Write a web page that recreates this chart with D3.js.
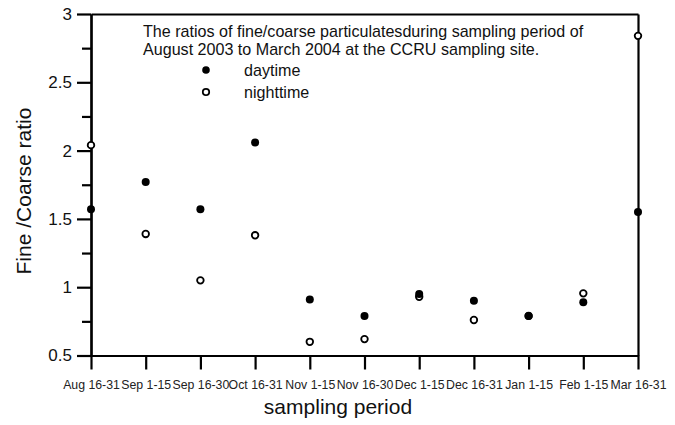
<!DOCTYPE html>
<html>
<head>
<meta charset="utf-8">
<script src="https://cdn.jsdelivr.net/npm/d3@7"></script>
<style>
  html, body { margin: 0; padding: 0; background: #fff; }
  svg { display: block; font-family: "Liberation Sans", Arial, Helvetica, sans-serif; }
</style>
</head>
<body>
<svg id="chart" width="675" height="425"></svg>
<script>
// Sampling periods (x categories)
const periods = ["Aug 16-31", "Sep 1-15", "Sep 16-30", "Oct 16-31", "Nov 1-15",
  "Nov 16-30", "Dec 1-15", "Dec 16-31", "Jan 1-15", "Feb 1-15", "Mar 16-31"];

// Fine/coarse ratio per period
const daytime   = [1.57, 1.77, 1.57, 2.06, 0.91, 0.79, 0.95, 0.90, 0.79, 0.89, 1.55];
const nighttime = [2.04, 1.39, 1.05, 1.38, 0.60, 0.62, 0.93, 0.76, 0.79, 0.955, 2.84];

// Axis ticks
const yMajorTicks = [0.5, 1, 1.5, 2, 2.5, 3];
const yMinorTicks = [0.75, 1.25, 1.75, 2.25, 2.75];

const titleLines = [
  "The ratios of fine/coarse particulatesduring sampling period of",
  "August 2003 to March 2004 at the CCRU sampling site."
];
const legendItems = [
  { label: "daytime", filled: true },
  { label: "nighttime", filled: false }
];

const svg = d3.select("#chart");
const plot = { left: 91, right: 638, top: 14, bottom: 355.5 };

const x = d3.scalePoint().domain(periods).range([plot.left, plot.right]).padding(0);
const y = d3.scaleLinear().domain([0.5, 3]).range([plot.bottom, plot.top]);

// Frame: top and right borders
svg.append("g").attr("transform", `translate(0,${plot.top})`)
  .call(d3.axisTop(x).tickValues([]).tickSizeOuter(0));
svg.append("g").attr("transform", `translate(${plot.right},0)`)
  .call(d3.axisRight(y).tickValues([]).tickSizeOuter(0));

// Left axis: major + minor ticks
svg.append("g").attr("class", "yaxis").attr("transform", `translate(${plot.left},0)`)
  .call(d3.axisLeft(y).tickValues(yMajorTicks).tickSize(14).tickSizeOuter(0)
    .tickPadding(5).tickFormat(d3.format("")));
svg.append("g").attr("class", "yminor").attr("transform", `translate(${plot.left},0)`)
  .call(d3.axisLeft(y).tickValues(yMinorTicks).tickSize(9).tickSizeOuter(0).tickFormat(""));

// Bottom axis
svg.append("g").attr("class", "xaxis").attr("transform", `translate(0,${plot.bottom})`)
  .call(d3.axisBottom(x).tickSize(14).tickSizeOuter(0).tickPadding(11));

svg.selectAll(".domain").attr("stroke", "#000").attr("stroke-width", 2.2);
svg.selectAll(".tick line").attr("stroke", "#000").attr("stroke-width", 2.2);
svg.selectAll(".yaxis text").attr("font-size", 17).attr("fill", "#111")
  .attr("font-family", "Liberation Sans, Arial, sans-serif");
svg.selectAll(".xaxis text").attr("font-size", 12.3).attr("fill", "#222")
  .attr("font-family", "Liberation Sans, Arial, sans-serif");

// Axis titles
svg.append("text")
  .attr("transform", `translate(31,191) rotate(-90)`)
  .attr("text-anchor", "middle")
  .attr("font-size", 21).attr("fill", "#111")
  .text("Fine /Coarse ratio");
svg.append("text")
  .attr("x", 338).attr("y", 414)
  .attr("text-anchor", "middle")
  .attr("font-size", 21).attr("fill", "#111")
  .text("sampling period");

// Title block
svg.append("g").selectAll("text").data(titleLines).join("text")
  .attr("x", 143).attr("y", (d, i) => 37 + i * 18)
  .attr("font-size", 16.1).attr("fill", "#111")
  .text(d => d);

// Legend
const lg = svg.append("g").selectAll("g").data(legendItems).join("g")
  .attr("transform", (d, i) => `translate(206,${70 + i * 22})`);
lg.append("circle").attr("r", d => d.filled ? 3.8 : 3.2)
  .attr("fill", d => d.filled ? "#000" : "#fff")
  .attr("stroke", "#000").attr("stroke-width", d => d.filled ? 0 : 1.8);
lg.append("text").attr("x", 38).attr("y", 5.5)
  .attr("font-size", 16.1).attr("fill", "#111")
  .text(d => d.label);

// Data markers
svg.append("g").selectAll("circle").data(nighttime).join("circle")
  .attr("cx", (d, i) => x(periods[i])).attr("cy", d => y(d))
  .attr("r", 3.3).attr("fill", "#fff").attr("stroke", "#000").attr("stroke-width", 1.8);
svg.append("g").selectAll("circle").data(daytime).join("circle")
  .attr("cx", (d, i) => x(periods[i])).attr("cy", d => y(d))
  .attr("r", 4).attr("fill", "#000");
</script>
</body>
</html>
